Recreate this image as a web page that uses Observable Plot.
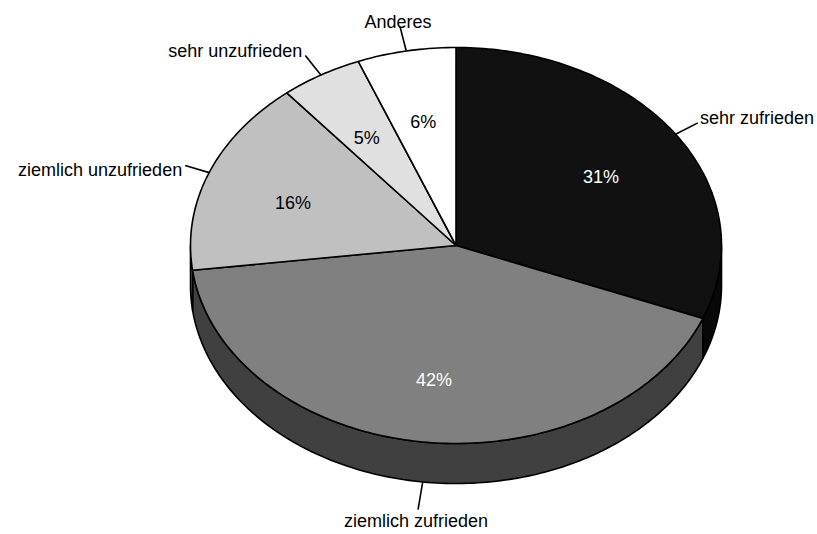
<!DOCTYPE html>
<html>
<head>
<meta charset="utf-8">
<script src="https://cdn.jsdelivr.net/npm/d3@7"></script>
<script src="https://cdn.jsdelivr.net/npm/@observablehq/plot@0.6"></script>
<style>
  body { margin: 0; background: #fff; }
</style>
</head>
<body>
<div id="chart"></div>
<script>
// Zufriedenheit – Anteile in Prozent, im Uhrzeigersinn ab 12 Uhr
const categories = ["sehr zufrieden", "ziemlich zufrieden", "ziemlich unzufrieden", "sehr unzufrieden", "Anderes"];
const shares = [31, 42, 16, 5, 6];

// Farben der Deckfläche, der Seitenwand und der Prozentbeschriftung
const topColors = ["#111111", "#808080", "#c0c0c0", "#e0e0e0", "#ffffff"];
const sideColors = ["#080808", "#404040", "#606060", "#707070", "#808080"];
const pctColors = ["#ffffff", "#ffffff", "#000000", "#000000", "#000000"];

// Geometrie der gekippten Torte (Pixel)
const W = 817, H = 534;
const cx = 455.5, cy = 245, rx = 265.5, ry = 198, depth = 40;
const deg = Math.PI / 180;
const pt = (t, drop = 0) => [cx + rx * Math.sin(t * deg), cy - ry * Math.cos(t * deg) + drop];

const total = d3.sum(shares);
let acc = 0;
const slices = categories.map((name, i) => {
  const a0 = acc / total * 360;
  acc += shares[i];
  const a1 = acc / total * 360;
  return {name, i, a0, a1, mid: (a0 + a1) / 2, value: shares[i]};
});

function arc(a0, a1, drop = 0) {
  const n = Math.max(2, Math.ceil(a1 - a0));
  return d3.range(n + 1).map(k => pt(a0 + (a1 - a0) * k / n, drop));
}

// Deckflächen der Segmente
const topRows = slices.flatMap(s =>
  [[cx, cy], ...arc(s.a0, s.a1)].map(([x, y]) => ({key: "top-" + s.i, x, y, color: topColors[s.i]}))
);

// sichtbare Außenwand (vordere Hälfte, 90°–270°)
const wallRows = slices.flatMap(s => {
  const a0 = Math.max(s.a0, 90), a1 = Math.min(s.a1, 270);
  if (a1 <= a0) return [];
  return [...arc(a0, a1), ...arc(a0, a1, depth).reverse()]
    .map(([x, y]) => ({key: "wall-" + s.i, x, y, color: sideColors[s.i]}));
});

// Beschriftungen mit Führungslinien
const labels = slices.map(s => {
  const front = s.mid > 90 && s.mid < 270;
  const drop = front ? depth : 0;
  const [x1, y1] = pt(s.mid, drop);
  let dx = x1 - cx, dy = y1 - (cy + drop);
  const len = Math.hypot(dx, dy);
  dx /= len; dy /= len;
  const leaderLen = front ? 28 : 25;
  const x2 = x1 + dx * leaderLen, y2 = y1 + dy * leaderLen;
  const anchor = dx > 0.5 ? "start" : dx < -0.5 ? "end" : "middle";
  const line = dy < -0.9 ? "bottom" : dy > 0.9 ? "top" : "middle";
  const tx = x2 + (anchor === "start" ? 2 : anchor === "end" ? -3 : -2);
  const ty = y2 + (line === "bottom" ? 1 : line === "top" ? 12 : (dy < -0.4 ? -4.5 : 5));
  return {name: s.name, x1, y1, x2, y2, anchor, line, tx, ty};
});

const pcts = slices.map(s => ({
  text: s.value + "%",
  x: cx + 0.66 * rx * Math.sin(s.mid * deg),
  y: cy - 0.66 * ry * Math.cos(s.mid * deg) + 5.5,
  color: pctColors[s.i]
}));

const font = "Liberation Sans, Arial, Helvetica, sans-serif";
const labelMarks = [];
for (const anchor of ["start", "middle", "end"]) {
  for (const line of ["top", "middle", "bottom"]) {
    const sub = labels.filter(d => d.anchor === anchor && d.line === line);
    if (sub.length) {
      labelMarks.push(Plot.text(sub, {
        x: "tx", y: "ty", text: "name", textAnchor: anchor, lineAnchor: line === "top" ? "middle" : line,
        fill: "#000", fontSize: 18, fontFamily: font
      }));
    }
  }
}

const chart = Plot.plot({
  width: W,
  height: H,
  margin: 0,
  x: {domain: [0, W], range: [0, W], axis: null},
  y: {domain: [0, H], range: [0, H], axis: null},
  color: {type: "identity"},
  style: {fontFamily: font, fontSize: "18px", background: "#fff"},
  marks: [
    Plot.line(wallRows, {x: "x", y: "y", z: "key", fill: "color", stroke: "#000", strokeWidth: 1.6, curve: "linear-closed", strokeLinejoin: "round"}),
    Plot.line(topRows, {x: "x", y: "y", z: "key", fill: "color", stroke: "#000", strokeWidth: 1.6, curve: "linear-closed", strokeLinejoin: "round"}),
    Plot.link(labels, {x1: "x1", y1: "y1", x2: "x2", y2: "y2", stroke: "#000", strokeWidth: 1.6}),
    ...labelMarks,
    Plot.text(pcts, {x: "x", y: "y", text: "text", fill: "color", fontSize: 18, fontFamily: font})
  ]
});
document.getElementById("chart").appendChild(chart);
</script>
</body>
</html>
